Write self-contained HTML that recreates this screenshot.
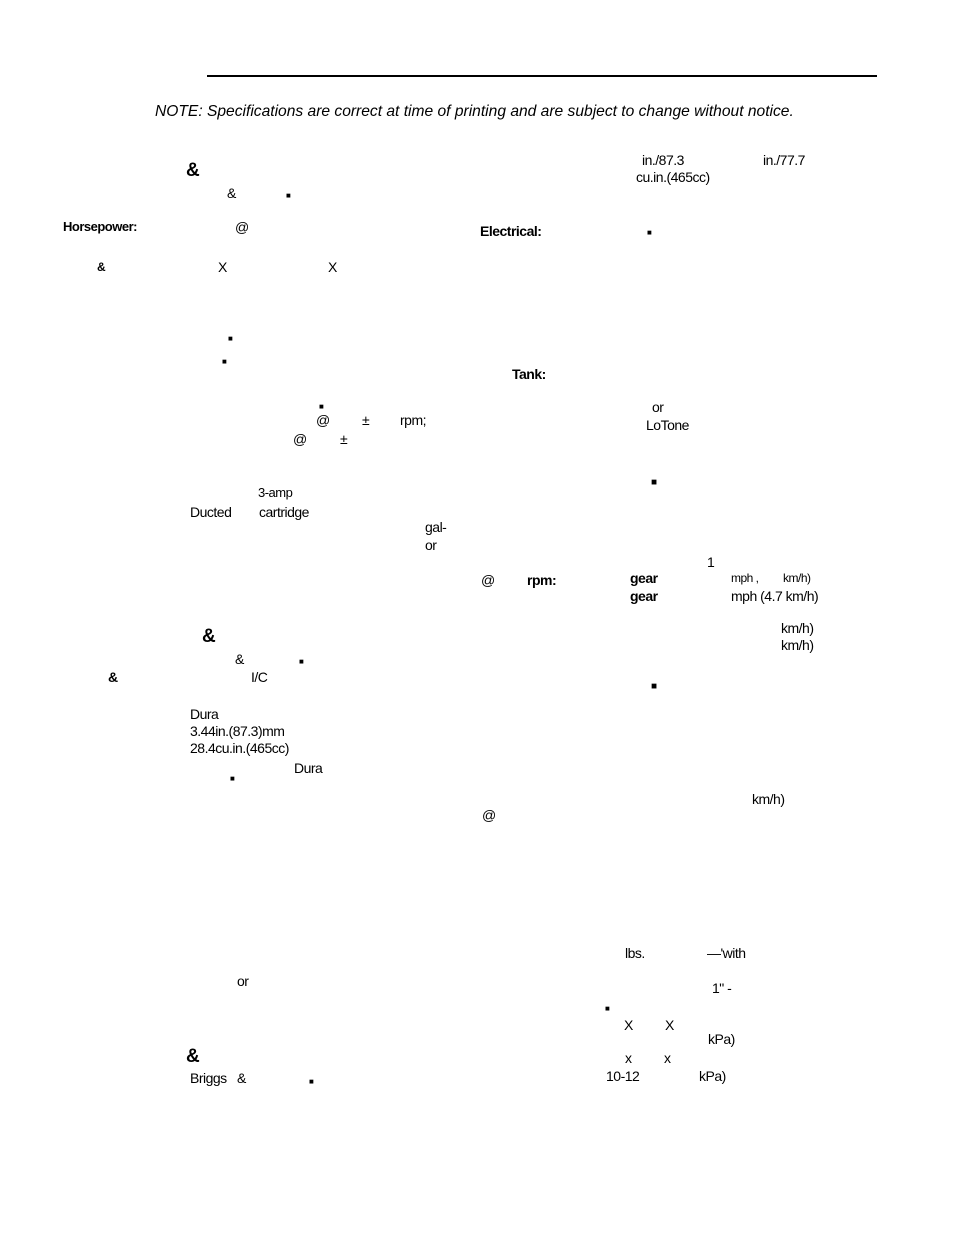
<!DOCTYPE html>
<html><head><meta charset="utf-8"><style>
html,body{margin:0;padding:0;background:#fff}
body{width:954px;height:1234px;position:relative;overflow:hidden;font-family:"Liberation Sans",sans-serif;color:#000}
#w{position:absolute;left:0;top:-3px;width:954px;height:1234px}
.t{position:absolute;font-size:14px;line-height:16px;white-space:nowrap;letter-spacing:-0.5px}
.b{font-weight:bold}
.s{font-size:8px}
.a{font-size:19px;font-weight:bold;line-height:20px}
</style></head><body>
<div style="position:absolute;left:207px;top:75px;width:670px;height:2px;background:#000"></div>
<div class="t" style="left:155px;top:104px;font-size:15.6px;font-style:italic;letter-spacing:0">NOTE: Specifications are correct at time of printing and are subject to change without notice.</div>
<div id="w">
<div class="t a" style="left:186px;top:164px">&amp;</div>
<div class="t" style="left:227px;top:188px">&amp;</div>
<div class="t s" style="left:286px;top:191px">■</div>
<div class="t" style="left:642px;top:155px">in./87.3</div>
<div class="t" style="left:763px;top:155px">in./77.7</div>
<div class="t" style="left:636px;top:172px">cu.in.(465cc)</div>

<div class="t b" style="left:63px;top:222px;font-size:13px">Horsepower:</div>
<div class="t" style="left:235px;top:222px">@</div>
<div class="t b" style="left:480px;top:226px">Electrical:</div>
<div class="t s" style="left:647px;top:228px">■</div>

<div class="t" style="left:97px;top:262px;font-weight:bold;font-size:12px">&amp;</div>
<div class="t" style="left:218px;top:262px">X</div>
<div class="t" style="left:328px;top:262px">X</div>

<div class="t s" style="left:228px;top:334px">■</div>
<div class="t s" style="left:222px;top:357px">■</div>
<div class="t b" style="left:512px;top:369px">Tank:</div>
<div class="t s" style="left:319px;top:402px">■</div>
<div class="t" style="left:316px;top:415px">@</div>
<div class="t" style="left:362px;top:415px">±</div>
<div class="t" style="left:400px;top:415px">rpm;</div>
<div class="t" style="left:293px;top:434px">@</div>
<div class="t" style="left:340px;top:434px">±</div>
<div class="t" style="left:652px;top:402px">or</div>
<div class="t" style="left:646px;top:420px">LoTone</div>

<div class="t" style="left:651px;top:478px;font-size:10px">■</div>
<div class="t" style="left:258px;top:488px;font-size:13px">3-amp</div>
<div class="t" style="left:190px;top:507px">Ducted</div>
<div class="t" style="left:259px;top:507px">cartridge</div>
<div class="t" style="left:425px;top:522px">gal-</div>
<div class="t" style="left:425px;top:540px">or</div>
<div class="t" style="left:707px;top:557px">1</div>
<div class="t" style="left:481px;top:575px">@</div>
<div class="t b" style="left:527px;top:575px">rpm:</div>
<div class="t b" style="left:630px;top:573px">gear</div>
<div class="t" style="left:731px;top:573px;font-size:12px">mph ,</div>
<div class="t" style="left:783px;top:573px;font-size:12px">km/h)</div>
<div class="t b" style="left:630px;top:591px">gear</div>
<div class="t" style="left:731px;top:591px">mph (4.7 km/h)</div>

<div class="t a" style="left:202px;top:630px">&amp;</div>
<div class="t" style="left:781px;top:623px">km/h)</div>
<div class="t" style="left:781px;top:640px">km/h)</div>
<div class="t" style="left:235px;top:654px">&amp;</div>
<div class="t s" style="left:299px;top:657px">■</div>
<div class="t b" style="left:108px;top:672px">&amp;</div>
<div class="t" style="left:251px;top:672px">I/C</div>
<div class="t" style="left:651px;top:682px;font-size:10px">■</div>

<div class="t" style="left:190px;top:709px">Dura</div>
<div class="t" style="left:190px;top:726px">3.44in.(87.3)mm</div>
<div class="t" style="left:190px;top:743px">28.4cu.in.(465cc)</div>
<div class="t" style="left:294px;top:763px">Dura</div>
<div class="t s" style="left:230px;top:774px">■</div>
<div class="t" style="left:752px;top:794px">km/h)</div>
<div class="t" style="left:482px;top:810px">@</div>

<div class="t" style="left:625px;top:948px">lbs.</div>
<div class="t" style="left:707px;top:948px">—'with</div>
<div class="t" style="left:237px;top:976px">or</div>
<div class="t" style="left:712px;top:983px">1" -</div>
<div class="t s" style="left:605px;top:1004px">■</div>
<div class="t" style="left:624px;top:1020px">X</div>
<div class="t" style="left:665px;top:1020px">X</div>
<div class="t" style="left:708px;top:1034px">kPa)</div>
<div class="t a" style="left:186px;top:1050px">&amp;</div>
<div class="t" style="left:625px;top:1053px">x</div>
<div class="t" style="left:664px;top:1053px">x</div>
<div class="t" style="left:190px;top:1073px">Briggs</div>
<div class="t" style="left:237px;top:1073px">&amp;</div>
<div class="t s" style="left:309px;top:1077px">■</div>
<div class="t" style="left:606px;top:1071px">10-12</div>
<div class="t" style="left:699px;top:1071px">kPa)</div>
</div>
</body></html>
